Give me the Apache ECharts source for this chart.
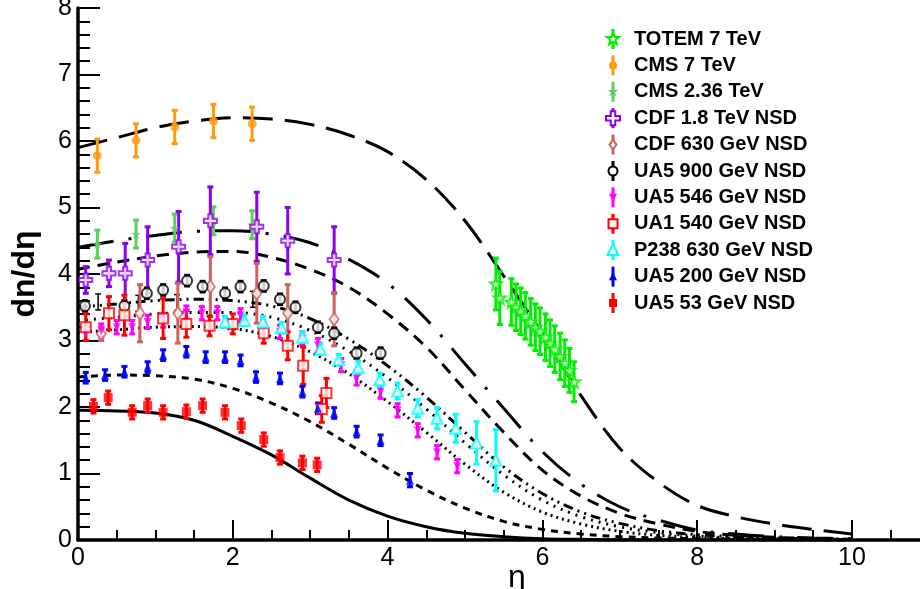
<!DOCTYPE html>
<html>
<head>
<meta charset="utf-8">
<script src="https://cdn.jsdelivr.net/npm/echarts@6/dist/echarts.min.js"></script>
<style>
  html, body { margin: 0; padding: 0; background: #fff; }
  #chart { width: 920px; height: 589px; }
</style>
</head>
<body>
<div id="chart"></div>
<script>
// ---- model curves, sampled every 0.5 in eta ----
const curveEta = [0, 0.5, 1, 1.5, 2, 2.5, 3, 3.5, 4, 4.5, 5, 5.5, 6, 6.5, 7, 7.5, 8, 8.5, 9, 9.5, 10];
const curve7TeV   = [5.9, 6.05, 6.2, 6.3, 6.35, 6.33, 6.25, 6.09, 5.84, 5.42, 4.8, 3.97, 3.1, 2.17, 1.38, 0.87, 0.52, 0.35, 0.24, 0.16, 0.09];
const curve236TeV = [4.4, 4.5, 4.58, 4.64, 4.65, 4.6, 4.47, 4.22, 3.86, 3.32, 2.65, 1.98, 1.33, 0.84, 0.5, 0.3, 0.15, 0.09, 0.05, 0.03, 0.02];
const curve18TeV  = [4.07, 4.18, 4.27, 4.33, 4.34, 4.25, 4.07, 3.8, 3.4, 2.9, 2.26, 1.62, 1.05, 0.66, 0.4, 0.24, 0.13, 0.07, 0.04, 0.02, 0.01];
const curve900    = [3.5, 3.55, 3.6, 3.62, 3.6, 3.52, 3.33, 3.02, 2.62, 2.15, 1.62, 1.1, 0.7, 0.42, 0.25, 0.14, 0.08, 0.05, 0.03, 0.02, 0.01];
const curve630    = [3.3, 3.35, 3.4, 3.42, 3.42, 3.35, 3.15, 2.84, 2.44, 1.97, 1.46, 0.98, 0.6, 0.35, 0.2, 0.11, 0.06, 0.03, 0.02, 0.01, 0.01];
const curve546    = [3.12, 3.16, 3.2, 3.21, 3.18, 3.06, 2.83, 2.5, 2.08, 1.62, 1.14, 0.72, 0.42, 0.24, 0.13, 0.07, 0.04, 0.02, 0.01, 0.01, 0.0];
const curve200    = [2.45, 2.48, 2.47, 2.42, 2.28, 2.06, 1.78, 1.44, 1.08, 0.75, 0.48, 0.28, 0.16, 0.09, 0.05, 0.03, 0.02, 0.01, 0.01, 0.0, 0.0];
const curve53     = [1.95, 1.94, 1.91, 1.8, 1.56, 1.28, 0.93, 0.6, 0.36, 0.2, 0.1, 0.05, 0.02, 0.01, 0.0, 0.0, 0.0, 0.0, 0.0, 0.0, 0.0];

// ---- measurements: eta, dn/deta, error ----
const totemEta = [5.40, 5.45, 5.60, 5.66, 5.72, 5.78, 5.85, 5.91, 5.97, 6.04, 6.10, 6.16, 6.23, 6.29, 6.35, 6.41];
const totemVal = [3.85, 3.64, 3.58, 3.50, 3.44, 3.37, 3.28, 3.20, 3.14, 3.05, 2.96, 2.87, 2.76, 2.66, 2.55, 2.38];
const totemErr = [0.39, 0.40, 0.35, 0.35, 0.35, 0.35, 0.35, 0.35, 0.35, 0.35, 0.35, 0.35, 0.35, 0.35, 0.33, 0.30];

const cms7Eta = [0.25, 0.75, 1.25, 1.75, 2.25];
const cms7Val = [5.78, 6.01, 6.21, 6.30, 6.26];
const cms7Err = [0.25, 0.25, 0.25, 0.25, 0.25];

const cms236Eta = [0.25, 0.75, 1.25, 1.75, 2.25];
const cms236Val = [4.45, 4.60, 4.69, 4.80, 4.74];
const cms236Err = [0.21, 0.21, 0.21, 0.21, 0.21];

const cdf18Eta = [0.10, 0.40, 0.61, 0.90, 1.30, 1.71, 2.31, 2.71, 3.31];
const cdf18Val = [3.91, 4.01, 4.01, 4.21, 4.41, 4.80, 4.71, 4.50, 4.21];
const cdf18Err = [0.20, 0.20, 0.45, 0.50, 0.53, 0.51, 0.52, 0.50, 0.50];

const cdf630Eta = [0.30, 0.80, 1.29, 1.71, 2.31, 2.71, 3.31];
const cdf630Val = [3.10, 3.41, 3.41, 3.81, 3.71, 3.41, 3.32];
const cdf630Err = [0.10, 0.43, 0.45, 0.45, 0.45, 0.43, 0.40];

const ua5900Eta = [0.09, 0.60, 0.89, 1.10, 1.41, 1.61, 1.90, 2.10, 2.40, 2.61, 2.81, 3.10, 3.31, 3.60, 3.91];
const ua5900Val = [3.52, 3.52, 3.71, 3.76, 3.90, 3.81, 3.71, 3.81, 3.82, 3.62, 3.50, 3.20, 3.11, 2.81, 2.81];
const ua5900Err = [0.08, 0.08, 0.08, 0.08, 0.08, 0.08, 0.08, 0.08, 0.08, 0.08, 0.08, 0.08, 0.08, 0.08, 0.08];

const bareEta = [0.26, 0.78, 1.28, 2.26];
const bareVal = [3.58, 3.56, 3.57, 3.62];
const bareErr = [0.12, 0.12, 0.12, 0.12];

const ua5546Eta = [0.10, 0.30, 0.50, 0.70, 0.90, 1.10, 1.40, 1.60, 1.80, 2.10, 2.39, 2.61, 2.90, 3.10, 3.40, 3.60, 3.91, 4.13, 4.39, 4.64, 4.90];
const ua5546Val = [3.10, 3.15, 3.20, 3.20, 3.28, 3.30, 3.42, 3.41, 3.41, 3.38, 3.20, 3.13, 3.03, 2.93, 2.63, 2.43, 2.23, 1.95, 1.65, 1.32, 1.11];
const ua5546Err = [0.10, 0.10, 0.10, 0.10, 0.10, 0.10, 0.10, 0.10, 0.10, 0.10, 0.10, 0.10, 0.10, 0.10, 0.10, 0.10, 0.10, 0.10, 0.10, 0.10, 0.10];

const ua1Eta = [0.10, 0.40, 0.60, 1.10, 1.40, 1.70, 2.00, 2.40, 2.71, 2.91, 3.15, 3.21];
const ua1Val = [3.20, 3.41, 3.38, 3.33, 3.25, 3.22, 3.25, 3.11, 2.92, 2.62, 1.97, 2.21];
const ua1Err = [0.20, 0.25, 0.30, 0.30, 0.20, 0.15, 0.15, 0.15, 0.21, 0.28, 0.20, 0.22];

const p238Eta = [1.90, 2.15, 2.39, 2.63, 2.90, 3.13, 3.37, 3.62, 3.90, 4.13, 4.39, 4.64, 4.88, 5.15, 5.40];
const p238Val = [3.28, 3.30, 3.28, 3.19, 3.05, 2.87, 2.71, 2.59, 2.41, 2.24, 1.98, 1.83, 1.68, 1.46, 1.20];
const p238Err = [0.08, 0.08, 0.08, 0.08, 0.08, 0.08, 0.08, 0.10, 0.10, 0.12, 0.13, 0.16, 0.21, 0.32, 0.46];

const ua5200Eta = [0.10, 0.35, 0.60, 0.90, 1.10, 1.40, 1.65, 1.90, 2.10, 2.30, 2.61, 2.90, 3.10, 3.31, 3.60, 3.91, 4.29];
const ua5200Val = [2.44, 2.48, 2.53, 2.60, 2.78, 2.83, 2.75, 2.75, 2.70, 2.45, 2.43, 2.23, 1.98, 1.91, 1.63, 1.50, 0.90];
const ua5200Err = [0.08, 0.08, 0.08, 0.08, 0.08, 0.08, 0.08, 0.08, 0.08, 0.08, 0.08, 0.08, 0.08, 0.08, 0.08, 0.08, 0.10];

const ua553Eta = [0.20, 0.39, 0.70, 0.90, 1.10, 1.40, 1.61, 1.90, 2.11, 2.40, 2.61, 2.90, 3.09];
const ua553Val = [2.01, 2.14, 1.92, 2.02, 1.92, 1.93, 2.02, 1.92, 1.72, 1.51, 1.24, 1.16, 1.13];
const ua553Err = [0.10, 0.10, 0.10, 0.10, 0.10, 0.10, 0.10, 0.10, 0.10, 0.10, 0.10, 0.10, 0.10];

// ---- tick positions ----
const xMajorTicks = [0, 2, 4, 6, 8, 10];
const xMinorTicks = [0.5, 1, 1.5, 2.5, 3, 3.5, 4.5, 5, 5.5, 6.5, 7, 7.5, 8.5, 9, 9.5, 10.5];

// ---- marker shapes ----
const STAR_PATH = 'path://M0,-10 L2.35,-3.24 L9.51,-3.09 L3.8,1.24 L5.88,8.09 L0,4 L-5.88,8.09 L-3.8,1.24 L-9.51,-3.09 L-2.35,-3.24 Z';
const CROSS_PATH = 'path://M-1.6,-5 H1.6 V-1.6 H5 V1.6 H1.6 V5 H-1.6 V1.6 H-5 V-1.6 H-1.6 Z';

function symbolFor(kind) {
  switch (kind) {
    case 'star': return { symbol: STAR_PATH, rotate: 0 };
    case 'cross': return { symbol: CROSS_PATH, rotate: 0 };
    case 'diamond': return { symbol: 'diamond', rotate: 0 };
    case 'circle': return { symbol: 'circle', rotate: 0 };
    case 'square': return { symbol: 'rect', rotate: 0 };
    case 'tri': return { symbol: 'triangle', rotate: 0 };
    case 'invtri': return { symbol: 'triangle', rotate: 180 };
  }
}

const dataSets = [
  { name: 'TOTEM 7 TeV',      eta: totemEta,  val: totemVal,  err: totemErr,  color: '#00ee00', kind: 'star',    size: [12, 12], open: true,  bar: 3 },
  { name: 'CMS 7 TeV',        eta: cms7Eta,   val: cms7Val,   err: cms7Err,   color: '#ff9a10', kind: 'circle',  size: [9, 9],   open: false, bar: 3 },
  { name: 'CMS 2.36 TeV',     eta: cms236Eta, val: cms236Val, err: cms236Err, color: '#5ccf5c', kind: 'star',    size: [10, 10], open: false, bar: 3 },
  { name: 'CDF 1.8 TeV NSD',  eta: cdf18Eta,  val: cdf18Val,  err: cdf18Err,  color: '#8c00f0', kind: 'cross',   size: [13, 13], open: true,  bar: 3 },
  { name: 'CDF 630 GeV NSD',  eta: cdf630Eta, val: cdf630Val, err: cdf630Err, color: '#d06060', kind: 'diamond', size: [9, 13],  open: true,  bar: 3 },
  { name: 'UA5 900 GeV NSD',  eta: ua5900Eta, val: ua5900Val, err: ua5900Err, color: '#000000', kind: 'circle',  size: [10, 10], open: true,  bar: 3 },
  { name: 'UA5 546 GeV NSD',  eta: ua5546Eta, val: ua5546Val, err: ua5546Err, color: '#ff00ff', kind: 'invtri',  size: [8, 8],   open: false, bar: 3 },
  { name: 'UA1 540 GeV NSD',  eta: ua1Eta,    val: ua1Val,    err: ua1Err,    color: '#ff0000', kind: 'square',  size: [10, 10], open: true,  bar: 3 },
  { name: 'P238 630 GeV NSD', eta: p238Eta,   val: p238Val,   err: p238Err,   color: '#00ffff', kind: 'tri',     size: [11, 11], open: true,  bar: 3 },
  { name: 'UA5 200 GeV NSD',  eta: ua5200Eta, val: ua5200Val, err: ua5200Err, color: '#0000ff', kind: 'tri',     size: [8, 9],   open: false, bar: 3 },
  { name: 'UA5 53 GeV NSD',   eta: ua553Eta,  val: ua553Val,  err: ua553Err,  color: '#ff0000', kind: 'square',  size: [9, 9],   open: false, bar: 3 }
];

const curves = [
  { values: curve7TeV,   dash: [30, 12] },
  { values: curve236TeV, dash: [36, 15, 3, 15] },
  { values: curve18TeV,  dash: [12, 8] },
  { values: curve900,    dash: [10, 5, 2, 5, 2, 5] },
  { values: curve630,    dash: [2, 6] },
  { values: curve546,    dash: [2, 4] },
  { values: curve200,    dash: [7, 6] },
  { values: curve53,     dash: 'solid' }
];

// Vertical error bar with short end caps
function errorBarRenderer(color, width, cap) {
  return function (params, api) {
    const x = api.value(0), y = api.value(1), e = api.value(2);
    const hi = api.coord([x, y + e]);
    const lo = api.coord([x, y - e]);
    const st = () => ({ stroke: color, lineWidth: width });
    return {
      type: 'group',
      children: [
        { type: 'line', shape: { x1: hi[0], y1: hi[1], x2: lo[0], y2: lo[1] }, style: st() },
        { type: 'line', shape: { x1: hi[0] - cap, y1: hi[1], x2: hi[0] + cap, y2: hi[1] }, style: st() },
        { type: 'line', shape: { x1: lo[0] - cap, y1: lo[1], x2: lo[0] + cap, y2: lo[1] }, style: st() }
      ]
    };
  };
}

const series = [];

curves.forEach((c, i) => {
  series.push({
    type: 'line',
    name: 'model' + i,
    data: curveEta.map((x, k) => [x, c.values[k]]),
    showSymbol: false,
    smooth: 0.35,
    silent: true,
    z: 2,
    lineStyle: { color: '#000', width: 3, type: c.dash, cap: 'butt' }
  });
});

// bare black error bars without a marker
series.push({
  type: 'custom',
  name: 'bare',
  data: bareEta.map((x, k) => [x, bareVal[k], bareErr[k]]),
  encode: { x: 0, y: 1 },
  renderItem: errorBarRenderer('#000', 1.5, 3),
  z: 3,
  silent: true
});

dataSets.forEach(d => {
  series.push({
    type: 'custom',
    name: d.name + ' err',
    data: d.eta.map((x, k) => [x, d.val[k], d.err[k]]),
    encode: { x: 0, y: 1 },
    renderItem: errorBarRenderer(d.color, d.bar, 3),
    z: 3,
    silent: true
  });
  const s = symbolFor(d.kind);
  series.push({
    type: 'scatter',
    name: d.name,
    data: d.eta.map((x, k) => [x, d.val[k]]),
    symbol: s.symbol,
    symbolRotate: s.rotate,
    symbolSize: d.size,
    z: 4,
    silent: true,
    itemStyle: d.open
      ? { color: '#ffffff', borderColor: d.color, borderWidth: 2 }
      : { color: d.color, borderWidth: 0 }
  });
});

// ---- legend drawn as graphic elements ----
function polyPoints(kind, cx, cy, r) {
  let pts;
  if (kind === 'star') {
    pts = [[0,-10],[2.35,-3.24],[9.51,-3.09],[3.8,1.24],[5.88,8.09],[0,4],[-5.88,8.09],[-3.8,1.24],[-9.51,-3.09],[-2.35,-3.24]];
  } else if (kind === 'cross') {
    pts = [[-3.2,-10],[3.2,-10],[3.2,-3.2],[10,-3.2],[10,3.2],[3.2,3.2],[3.2,10],[-3.2,10],[-3.2,3.2],[-10,3.2],[-10,-3.2],[-3.2,-3.2]];
  } else if (kind === 'diamond') {
    pts = [[0,-10],[7,0],[0,10],[-7,0]];
  } else if (kind === 'tri') {
    pts = [[0,-10],[9,8],[-9,8]];
  } else if (kind === 'invtri') {
    pts = [[0,10],[9,-8],[-9,-8]];
  }
  return pts.map(p => [cx + p[0] * r / 10, cy + p[1] * r / 10]);
}

const legendGraphics = [];
const legX = 613, legTextX = 634, legTop = 39, legStep = 26.4;
dataSets.forEach((d, i) => {
  const cy = legTop + i * legStep;
  const fill = d.open ? '#ffffff' : d.color;
  const stroke = d.open ? d.color : null;
  legendGraphics.push({
    type: 'line', shape: { x1: legX, y1: cy - 10, x2: legX, y2: cy + 10 },
    style: { stroke: d.color, lineWidth: 3 }
  });
  const r = d.size[0] / 2 + 0.5;
  if (d.kind === 'circle') {
    legendGraphics.push({ type: 'circle', shape: { cx: legX, cy: cy, r: r - 1 },
      style: { fill, stroke, lineWidth: 2 } });
  } else if (d.kind === 'square') {
    legendGraphics.push({ type: 'rect', shape: { x: legX - r + 1, y: cy - r + 1, width: 2 * r - 2, height: 2 * r - 2 },
      style: { fill, stroke, lineWidth: 2 } });
  } else {
    legendGraphics.push({ type: 'polygon', shape: { points: polyPoints(d.kind, legX, cy, r) },
      style: { fill, stroke, lineWidth: 2 } });
  }
  legendGraphics.push({
    type: 'text', x: legTextX, y: cy,
    style: { text: d.name, fill: '#000', font: 'bold 20px "Liberation Sans", Arial, sans-serif', verticalAlign: 'middle' }
  });
});

const chart = echarts.init(document.getElementById('chart'), null, { renderer: 'canvas' });

const labelFont = { color: '#000', fontSize: 25, fontFamily: '"Liberation Sans", Arial, sans-serif' };

chart.setOption({
  animation: false,
  backgroundColor: '#ffffff',
  grid: { left: 78, right: 0, top: 8, bottom: 49, containLabel: false, outerBoundsMode: 'none' },
  xAxis: [
    {
      type: 'value', min: 0, max: 10.88, position: 'bottom',
      name: 'η', nameLocation: 'middle', nameGap: 22, nameMoveOverlap: false,
      nameTextStyle: { color: '#000', fontSize: 32, fontFamily: '"Liberation Sans", Arial, sans-serif', padding: [0, 0, 0, 36] },
      axisLine: { show: true, lineStyle: { color: '#000', width: 3.5 } },
      axisTick: { show: true, inside: true, length: 20, customValues: xMajorTicks, lineStyle: { color: '#000', width: 2 } },
      axisLabel: Object.assign({ customValues: xMajorTicks, margin: 6 }, labelFont),
      splitLine: { show: false }
    },
    {
      type: 'value', min: 0, max: 10.88, position: 'bottom',
      axisLine: { show: false },
      axisTick: { show: true, inside: true, length: 10, customValues: xMinorTicks, lineStyle: { color: '#000', width: 2 } },
      axisLabel: { show: false },
      splitLine: { show: false }
    }
  ],
  yAxis: {
    type: 'value', min: 0, max: 8, interval: 1,
    name: 'dn/dη', nameLocation: 'middle', nameGap: 37, nameRotate: 90, nameMoveOverlap: false,
    nameTextStyle: { color: '#000', fontSize: 32, fontWeight: 'bold', fontFamily: '"Liberation Sans", Arial, sans-serif' },
    axisLine: { show: true, lineStyle: { color: '#000', width: 3.5 } },
    axisTick: { show: true, inside: true, length: 22, lineStyle: { color: '#000', width: 2 } },
    minorTick: { show: true, splitNumber: 5, length: 12, lineStyle: { color: '#000', width: 2 } },
    axisLabel: Object.assign({ margin: 6 }, labelFont),
    splitLine: { show: false },
    minorSplitLine: { show: false }
  },
  graphic: legendGraphics,
  series: series
});
</script>
</body>
</html>
